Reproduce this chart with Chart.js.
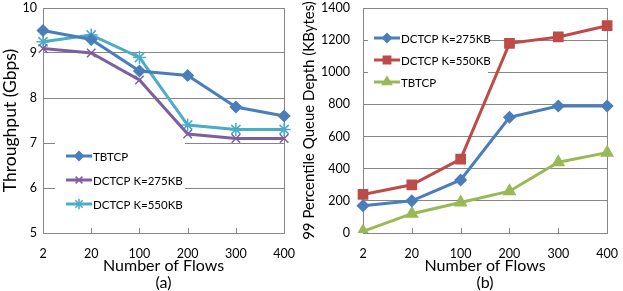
<!DOCTYPE html>
<html>
<head>
<meta charset="utf-8">
<script src="https://cdn.jsdelivr.net/npm/chart.js@4/dist/chart.umd.min.js"></script>
<style>
  html, body { margin: 0; padding: 0; background: #fff; }
  #wrap { position: relative; width: 623px; height: 291px; }
  .box { position: absolute; top: 0; height: 291px; }
</style>
</head>
<body>
<div id="wrap">
  <div class="box" style="left:0;width:300px"><canvas id="chartA"></canvas></div>
  <div class="box" style="left:300px;width:323px"><canvas id="chartB"></canvas></div>
</div>
<script>
const flows = ['2', '20', '100', '200', '300', '400'];

// (a) throughput, Gbps
const tbtcpThroughput = [9.5, 9.3, 8.6, 8.5, 7.8, 7.6];
const dctcp275Throughput = [9.1, 9.0, 8.4, 7.2, 7.1, 7.1];
const dctcp550Throughput = [9.25, 9.4, 8.9, 7.4, 7.3, 7.3];

// (b) 99th percentile queue depth, KBytes
const dctcp275Queue = [170, 200, 330, 720, 790, 790];
const dctcp550Queue = [240, 300, 460, 1180, 1220, 1290];
const tbtcpQueue = [10, 120, 190, 260, 440, 500];

const FONT = 'Lato, "Liberation Sans", sans-serif';
const GRID = '#868686';

Chart.defaults.font.family = FONT;
Chart.defaults.color = '#000';

// plot frame, inner ticks on the x axis and the boxed legend
const excelLook = {
  id: 'excelLook',
  beforeDatasetsDraw(chart) {
    const { ctx, chartArea: a } = chart;
    const x = chart.scales.x;
    ctx.save();
    ctx.strokeStyle = GRID;
    ctx.lineWidth = 1;
    ctx.beginPath();
    for (let i = 1; i < flows.length - 1; i++) {
      const px = Math.round(x.getPixelForTick(i)) + 0.5;
      ctx.moveTo(px, a.bottom);
      ctx.lineTo(px, a.bottom - 5);
    }
    ctx.stroke();
    ctx.strokeRect(Math.round(a.left) + 0.5, Math.round(a.top) + 0.5,
      Math.round(a.right - a.left), Math.round(a.bottom - a.top));
    ctx.restore();
  },
  afterDatasetsDraw(chart, args, opts) {
    const { ctx, chartArea: a } = chart;
    ctx.save();
    ctx.fillStyle = '#fff';
    ctx.fillRect(a.left + opts.boxX, a.top + opts.boxY, opts.boxW, opts.boxH);
    chart.data.datasets.forEach((ds, i) => {
      const y = a.top + opts.firstY + i * opts.step;
      const x0 = a.left + opts.lineX;
      ctx.strokeStyle = ds.borderColor;
      ctx.fillStyle = ds.borderColor;
      ctx.lineWidth = 3;
      ctx.beginPath();
      ctx.moveTo(x0, y);
      ctx.lineTo(x0 + 26, y);
      ctx.stroke();
      ctx.lineWidth = ds.pointBorderWidth;
      Chart.helpers.drawPoint(ctx, {
        pointStyle: ds.pointStyle, radius: ds.pointRadius * 0.8,
        rotation: 0, borderWidth: ds.pointBorderWidth
      }, x0 + 13, y);
      ctx.fillStyle = '#000';
      ctx.font = '11.5px ' + FONT;
      ctx.textBaseline = 'middle';
      ctx.fillText(ds.label, x0 + 27, y + 1);
    });
    ctx.restore();
  }
};

function series(label, data, color, style, radius) {
  return {
    label: label,
    data: data,
    borderColor: color,
    backgroundColor: color,
    pointBackgroundColor: color,
    pointBorderColor: color,
    pointStyle: style,
    pointRadius: radius,
    pointBorderWidth: 1.5,
    borderWidth: 3,
    tension: 0,
    fill: false
  };
}

// tick padding also pads the top of a vertical axis, so the label gap
// comes from an invisible tick instead
function makeChart(id, datasets, yOpts, yTitle, titleSize, tag, axisWidth, labelGap, legend, rightPad) {
  return new Chart(document.getElementById(id), {
    type: 'line',
    data: { labels: flows, datasets: datasets },
    plugins: [excelLook],
    options: {
      responsive: true,
      maintainAspectRatio: false,
      animation: false,
      events: [],
      layout: { padding: { top: 0, right: rightPad, bottom: 0, left: 0 } },
      plugins: {
        legend: { display: false },
        tooltip: { enabled: false },
        excelLook: legend
      },
      scales: {
        x: {
          offset: false,
          grid: { display: false },
          border: { color: GRID },
          ticks: { font: { size: 12.5 }, padding: 5, maxRotation: 0, autoSkip: false },
          title: {
            display: true,
            text: ['Number of Flows', tag],
            font: { size: 16, lineHeight: 1.05 },
            padding: { top: 1, bottom: 0 }
          },
          afterFit(s) { s.height = 58; }
        },
        y: Object.assign({
          grid: { color: GRID, drawTicks: true, tickLength: labelGap, tickColor: 'rgba(0,0,0,0)' },
          border: { color: GRID },
          title: { display: true, text: yTitle, font: { size: titleSize }, padding: 0 },
          afterFit(s) { s.width = axisWidth; }
        }, yOpts)
      }
    }
  });
}

makeChart('chartA', [
  series('TBTCP', tbtcpThroughput, '#4A7EBB', 'rectRot', 5.5),
  series('DCTCP K=275KB', dctcp275Throughput, '#7D5FA0', 'crossRot', 6),
  series('DCTCP K=550KB', dctcp550Throughput, '#4BACC6', 'star', 6.5)
], { min: 5, max: 10, ticks: { font: { size: 12.5, lineHeight: 0.8 }, padding: 0, stepSize: 1 } },
  'Throughput (Gbps)', 17.5, '(a)', 43, 6,
  { boxX: 12, boxY: 135, boxW: 130, boxH: 75, lineX: 23, firstY: 148, step: 24 }, 8);

makeChart('chartB', [
  series('DCTCP K=275KB', dctcp275Queue, '#4A7EBB', 'rectRot', 5.5),
  series('DCTCP K=550KB', dctcp550Queue, '#BE4B48', 'rect', 6.5),
  series('TBTCP', tbtcpQueue, '#98B954', 'triangle', 6.5)
], { min: 0, max: 1400, ticks: { font: { size: 12.5, lineHeight: 0.8 }, padding: 0, stepSize: 200, callback: v => String(v) } },
  '99 Percentile Queue Depth (KBytes)', 15, '(b)', 63, 13,
  { boxX: 5, boxY: 17, boxW: 120, boxH: 62, lineX: 11, firstY: 30, step: 22 }, 10);
</script>
</body>
</html>
